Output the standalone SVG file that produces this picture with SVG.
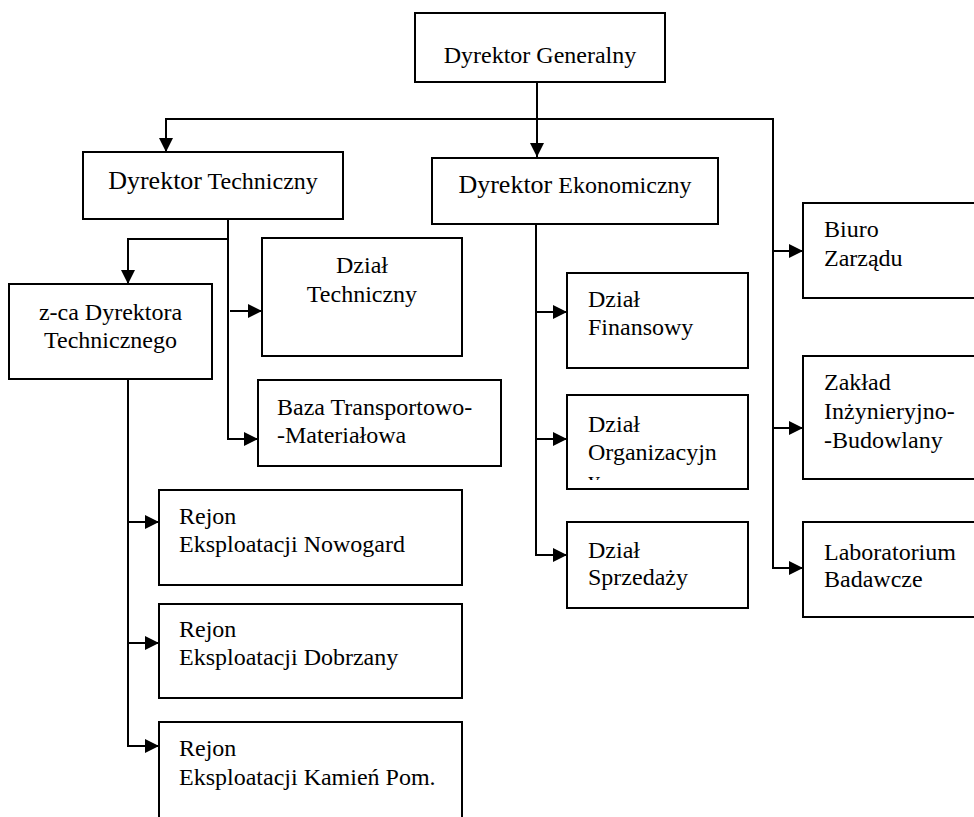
<svg xmlns="http://www.w3.org/2000/svg" width="974" height="817" viewBox="0 0 974 817">
<style>
.box{fill:#fff;stroke:#000;stroke-width:2}
.t{font-family:"Liberation Serif","Times New Roman",serif;font-size:24px;fill:#000}
.c{text-anchor:middle}
.big{font-size:26px}
.con{fill:none;stroke:#000;stroke-width:2}
</style>
<defs>
<marker id="ah" markerUnits="userSpaceOnUse" markerWidth="14" markerHeight="14" refX="14" refY="7" orient="auto">
<path d="M0,0 L14,7 L0,14 z" fill="#000"/>
</marker>
<clipPath id="clipOrg"><rect x="567" y="395" width="181" height="85"/></clipPath>
</defs>
<rect width="974" height="817" fill="#fff"/>
<g id="connectors">
<path class="con" d="M537 82 V157" marker-end="url(#ah)"/>
<path class="con" d="M537 119 H166 V152" marker-end="url(#ah)"/>
<path class="con" d="M537 119 H773 V568 H803" marker-end="url(#ah)"/>
<path class="con" d="M773 251 H803" marker-end="url(#ah)"/>
<path class="con" d="M773 428 H803" marker-end="url(#ah)"/>
<path class="con" d="M228 219 V439 H258" marker-end="url(#ah)"/>
<path class="con" d="M228 239 H128 V284" marker-end="url(#ah)"/>
<path class="con" d="M230 311 H262" marker-end="url(#ah)"/>
<path class="con" d="M128 379 V746 H159" marker-end="url(#ah)"/>
<path class="con" d="M128 522 H159" marker-end="url(#ah)"/>
<path class="con" d="M128 643 H159" marker-end="url(#ah)"/>
<path class="con" d="M536 224 V555 H567" marker-end="url(#ah)"/>
<path class="con" d="M536 312 H567" marker-end="url(#ah)"/>
<path class="con" d="M536 439 H567" marker-end="url(#ah)"/>
</g>
<g id="dyrektor-generalny">
<rect class="box" x="415" y="13" width="250" height="69"/>
<text class="t c" x="540" y="63">Dyrektor Generalny</text>
</g>
<g id="dyrektor-techniczny">
<rect class="box" x="83" y="152" width="260" height="67"/>
<text class="t c" x="213" y="189"><tspan class="big">Dyrektor</tspan> Techniczny</text>
</g>
<g id="dyrektor-ekonomiczny">
<rect class="box" x="432" y="158" width="286" height="66"/>
<text class="t c" x="575" y="193"><tspan class="big">Dyrektor</tspan> Ekonomiczny</text>
</g>
<g id="zca-dyrektora">
<rect class="box" x="9" y="284" width="203" height="95"/>
<text class="t c" x="110.5" y="320">z-ca Dyrektora</text>
<text class="t c" x="110.5" y="348">Technicznego</text>
</g>
<g id="dzial-techniczny">
<rect class="box" x="262" y="238" width="200" height="118"/>
<text class="t c" x="362" y="273">Dział</text>
<text class="t c" x="362" y="302">Techniczny</text>
</g>
<g id="baza">
<rect class="box" x="258" y="380" width="243" height="86"/>
<text class="t" x="277" y="415">Baza Transportowo-</text>
<text class="t" x="277" y="443">-Materiałowa</text>
</g>
<g id="rejon-nowogard">
<rect class="box" x="159" y="490" width="303" height="95"/>
<text class="t" x="179" y="524">Rejon</text>
<text class="t" x="179" y="552">Eksploatacji Nowogard</text>
</g>
<g id="rejon-dobrzany">
<rect class="box" x="159" y="604" width="303" height="94"/>
<text class="t" x="179" y="637">Rejon</text>
<text class="t" x="179" y="665">Eksploatacji Dobrzany</text>
</g>
<g id="rejon-kamien">
<rect class="box" x="159" y="722" width="303" height="120"/>
<text class="t" x="179" y="756">Rejon</text>
<text class="t" x="179" y="785">Eksploatacji Kamień Pom.</text>
</g>
<g id="dzial-finansowy">
<rect class="box" x="567" y="273" width="181" height="95"/>
<text class="t" x="588" y="307">Dział</text>
<text class="t" x="588" y="335">Finansowy</text>
</g>
<g id="dzial-organizacyjny">
<rect class="box" x="567" y="395" width="181" height="94"/>
<g clip-path="url(#clipOrg)">
<text class="t" x="588" y="432">Dział</text>
<text class="t" x="588" y="460">Organizacyjn</text>
<text class="t" x="588" y="488">y</text>
</g>
</g>
<g id="dzial-sprzedazy">
<rect class="box" x="567" y="522" width="181" height="86"/>
<text class="t" x="588" y="558">Dział</text>
<text class="t" x="588" y="585">Sprzedaży</text>
</g>
<g id="biuro-zarzadu">
<rect class="box" x="803" y="203" width="200" height="95"/>
<text class="t" x="824" y="237">Biuro</text>
<text class="t" x="824" y="266">Zarządu</text>
</g>
<g id="zaklad">
<rect class="box" x="803" y="356" width="200" height="123"/>
<text class="t" x="824" y="390">Zakład</text>
<text class="t" x="824" y="419">Inżynieryjno-</text>
<text class="t" x="824" y="448">-Budowlany</text>
</g>
<g id="laboratorium">
<rect class="box" x="803" y="522" width="200" height="95"/>
<text class="t" x="824" y="560">Laboratorium</text>
<text class="t" x="824" y="587">Badawcze</text>
</g>
</svg>
